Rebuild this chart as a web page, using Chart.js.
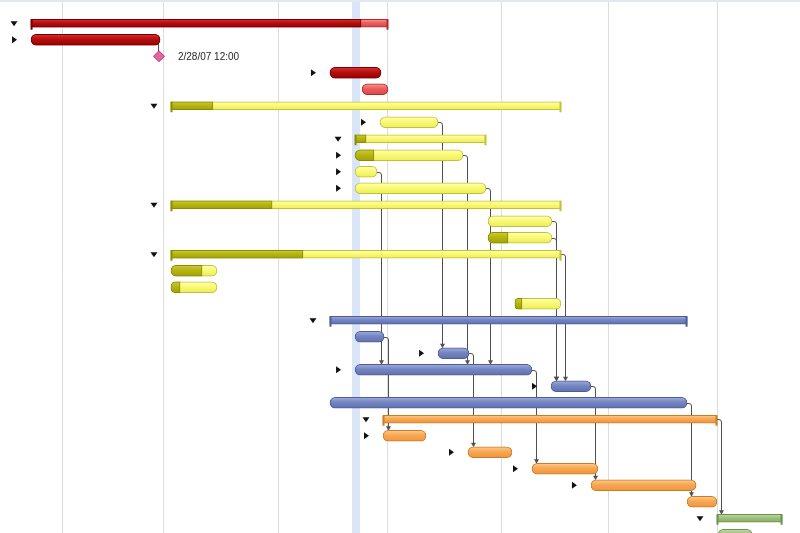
<!DOCTYPE html>
<html><head><meta charset="utf-8">
<script src="https://cdn.jsdelivr.net/npm/chart.js@4/dist/chart.umd.min.js"></script>
<style>
html,body{margin:0;padding:0;background:#fff;overflow:hidden;width:800px;height:533px}
#wrap{position:relative;width:800px;height:543px}
</style>
</head><body><div id="wrap"><canvas id="c" width="800" height="543"></canvas></div>
<script>
// ---- data (x values are in days from the start of the view) ----
const rows = ['T1','T2','T3','T4','T5','T6','T7','T8','T9','T10','T11','T12','T13','T14','T15','T16',
              'T17','T18','T19','T20','T21','T22','T23','T24','T25','T26','T27','T28','T29','T30','T31','T32'];
const kinds = ['summary','task','milestone','task','task','summary','task','summary','task','task','task','summary',
               'task','task','summary','task','task','task','summary','task','task','task','task','task',
               'summary','task','task','task','task','task','summary','task'];
const groups = ['red','red','red','red','red',
                'yellow','yellow','yellow','yellow','yellow','yellow','yellow','yellow','yellow','yellow','yellow','yellow','yellow',
                'blue','blue','blue','blue','blue','blue',
                'orange','orange','orange','orange','orange','orange',
                'green','green'];
const starts = [1.99,1.99,10.19,21.15,23.21,10.96,24.36,22.76,22.76,22.76,22.76,10.96,31.28,31.28,10.96,10.96,
                10.96,33.01,21.15,22.76,28.08,22.76,35.32,21.15,24.55,24.55,30.00,34.10,37.88,44.04,45.96,46.03];
const ends   = [24.87,10.26,null,24.42,24.87,35.96,28.08,31.15,29.68,24.17,31.15,35.96,35.38,35.38,35.96,13.91,
                13.91,35.96,44.04,24.62,30.06,34.10,37.88,44.04,45.96,27.31,32.82,38.33,44.62,45.96,50.13,48.21];
const progress = [23.14,10.26,null,24.42,null,13.65,null,23.46,23.97,null,null,17.44,null,32.56,19.42,12.95,
                  11.54,33.46,null,null,null,null,null,null,null,null,null,null,null,null,null,null];
const disclosure = ['open','closed',null,'closed',null,'open','closed','open','closed','closed','closed','open',
                    null,null,'open',null,null,null,'open',null,'closed','closed','closed',null,
                    'open','closed','closed','closed','closed',null,'open',null];
const dependencies = [[1,2],[9,21],[6,20],[8,21],[10,21],[12,22],[13,22],[14,22],
                      [19,25],[20,26],[21,27],[22,28],[23,29],[24,30]];
const gridDays = [3.97,10.48,17.82,24.81,32.12,38.97,45.96];
const todayBand = [22.56,23.08];
const dayRange = [0,51.28];
const milestoneLabels = ['','','2/28/07 12:00','','','','','','','','','','','','','','','','','','','','','','','','','','','','',''];

// ---- styles ----
const SUM_T = 8, TASK_T = 11;
const palette = {
  red:    {todo:['#f79a9a','#ee5c5c','#d84646'], todoEdge:'#b02a2a', done:['#d43434','#b80e0e','#980000'], doneEdge:'#780000'},
  yellow: {todo:['#ffffb8','#fafa76','#ecec5c'], todoEdge:'#c2c23a', done:['#cdcd36','#b5b514','#a2a208'], doneEdge:'#8c8c00'},
  blue:   {todo:['#a0aedb','#7486c2','#6070ac'], todoEdge:'#4c5d9a'},
  orange: {todo:['#fdcb92','#f8a852','#ec963e'], todoEdge:'#c97d28'},
  green:  {todo:['#c2dba8','#9dc07b','#88ad66'], todoEdge:'#6a934a'}
};
function colors(i, isDone){ const p = palette[groups[i]]; return (isDone && p.done) ? {f:p.done,e:p.doneEdge} : {f:p.todo,e:p.todoEdge}; }
function grad(c, isDone, th){
  const i = c.dataIndex;
  if (i == null || !groups[i]) return '#ccc';
  const cl = colors(i, isDone);
  const ys = c.chart.scales.y;
  if (!ys) return cl.f[1];
  const y = ys.getPixelForValue(i);
  if (!isFinite(y)) return cl.f[1];
  const g = c.chart.ctx.createLinearGradient(0, y - th/2, 0, y + th/2);
  g.addColorStop(0, cl.f[0]); g.addColorStop(0.45, cl.f[1]); g.addColorStop(1, cl.f[2]);
  return g;
}
function edge(c, isDone){ const i = c.dataIndex; return (i == null || !groups[i]) ? '#888' : colors(i, isDone).e; }

const ganttPlugin = {
  id: 'gantt',
  beforeDatasetsDraw(chart){
    const {ctx, scales:{x, y}} = chart;
    ctx.save();
    ctx.fillStyle = '#e3e8ef'; ctx.fillRect(0, 0, chart.width, 2);
    ctx.strokeStyle = '#dddddd'; ctx.lineWidth = 1;
    gridDays.forEach(d => {
      const px = Math.round(x.getPixelForValue(d)) + 0.5;
      ctx.beginPath(); ctx.moveTo(px, 2); ctx.lineTo(px, chart.height); ctx.stroke();
    });
    const a = x.getPixelForValue(todayBand[0]), b = x.getPixelForValue(todayBand[1]);
    ctx.fillStyle = 'rgba(212,226,246,0.85)'; ctx.fillRect(a, 2, b - a, chart.height);
    ctx.strokeStyle = '#505050'; ctx.fillStyle = '#505050'; ctx.lineWidth = 1;
    dependencies.forEach(([p, s]) => {
      const yp = y.getPixelForValue(p), ysu = y.getPixelForValue(s);
      if (kinds[s] === 'milestone') {
        const xm = Math.round(x.getPixelForValue(starts[s])) - 0.5;
        ctx.beginPath(); ctx.moveTo(xm, yp); ctx.lineTo(xm, ysu - 5); ctx.stroke();
        return;
      }
      const xe = x.getPixelForValue(ends[p]);
      const xl = Math.round(xe + 4) + 0.5;
      const top = ysu - (kinds[s] === 'summary' ? SUM_T : TASK_T) / 2;
      const yy = Math.round(yp) + 0.5;
      ctx.beginPath();
      ctx.moveTo(xe - 3, yy);
      ctx.arcTo(xl, yy, xl, top, 2.5);
      ctx.lineTo(xl, top - 3);
      ctx.stroke();
      ctx.beginPath();
      ctx.moveTo(xl - 2.5, top - 4); ctx.lineTo(xl + 2.5, top - 4); ctx.lineTo(xl, top + 0.5); ctx.closePath(); ctx.fill();
    });
    ctx.restore();
  },
  afterDatasetsDraw(chart){
    const {ctx, scales:{x, y}} = chart;
    ctx.save();
    rows.forEach((r, i) => {
      const cy = y.getPixelForValue(i);
      const xs = x.getPixelForValue(starts[i]);
      if (kinds[i] === 'summary') {
        const xe = x.getPixelForValue(ends[i]);
        const ps = progress[i] != null && progress[i] > starts[i];
        const pe = progress[i] != null && progress[i] >= ends[i];
        ctx.fillStyle = colors(i, ps).e;
        ctx.fillRect(xs - 0.5, cy - SUM_T/2, 2, SUM_T + 2.5);
        ctx.fillStyle = colors(i, pe).e;
        ctx.fillRect(xe - 1.5, cy - SUM_T/2, 2, SUM_T + 2.5);
      }
      const d = disclosure[i];
      if (d) {
        const cx = xs - 17;
        ctx.fillStyle = '#111';
        ctx.beginPath();
        if (d === 'open') { ctx.moveTo(cx - 3.5, cy - 2); ctx.lineTo(cx + 3.5, cy - 2); ctx.lineTo(cx, cy + 3); }
        else { ctx.moveTo(cx - 2, cy - 3.5); ctx.lineTo(cx - 2, cy + 3.5); ctx.lineTo(cx + 3, cy); }
        ctx.closePath(); ctx.fill();
      }
      if (milestoneLabels[i]) {
        ctx.fillStyle = '#262626';
        ctx.font = '10px "Liberation Sans", Arial, sans-serif';
        ctx.textBaseline = 'middle'; ctx.textAlign = 'left';
        ctx.fillText(milestoneLabels[i], xs + 19, cy + 0.5);
      }
    });
    ctx.restore();
  }
};

new Chart(document.getElementById('c'), {
  type: 'bar',
  data: {
    labels: rows,
    datasets: [
      { type: 'line', label: 'Milestone', indexAxis: 'y',
        data: kinds.map((k, i) => k === 'milestone' ? starts[i] : null),
        showLine: false, pointStyle: 'rectRot', pointRadius: 5.5,
        pointBackgroundColor: '#e8649e', pointBorderColor: '#b23a6e', pointBorderWidth: 1, order: 0, clip: false },
      { label: 'Summary progress', grouped: false, barThickness: SUM_T,
        data: kinds.map((k, i) => k === 'summary' && progress[i] != null ? [starts[i], progress[i]] : null),
        backgroundColor: c => grad(c, true, SUM_T), borderColor: c => edge(c, true),
        borderWidth: 1, borderSkipped: false, borderRadius: 0, order: 1 },
      { label: 'Task progress', grouped: false, barThickness: TASK_T,
        data: kinds.map((k, i) => k === 'task' && progress[i] != null ? [starts[i], progress[i]] : null),
        backgroundColor: c => grad(c, true, TASK_T), borderColor: c => edge(c, true),
        borderWidth: 1, borderSkipped: false,
        borderRadius: c => { const i = c.dataIndex; if (i == null || progress[i] == null) return 0;
          return progress[i] >= ends[i] ? TASK_T/2 : {topLeft: TASK_T/2, bottomLeft: TASK_T/2, topRight: 0, bottomRight: 0}; },
        order: 1 },
      { label: 'Summary', grouped: false, barThickness: SUM_T,
        data: kinds.map((k, i) => k === 'summary' ? [starts[i], ends[i]] : null),
        backgroundColor: c => grad(c, false, SUM_T), borderColor: c => edge(c, false),
        borderWidth: 1, borderSkipped: false, borderRadius: 0, order: 2 },
      { label: 'Task', grouped: false, barThickness: TASK_T,
        data: kinds.map((k, i) => k === 'task' ? [starts[i], ends[i]] : null),
        backgroundColor: c => grad(c, false, TASK_T), borderColor: c => edge(c, false),
        borderWidth: 1, borderSkipped: false, borderRadius: TASK_T/2, order: 2 }
    ]
  },
  options: {
    indexAxis: 'y',
    responsive: false,
    animation: false,
    layout: { autoPadding: false, padding: { top: 15, bottom: 0, left: 0, right: 0 } },
    plugins: { legend: { display: false }, tooltip: { enabled: false } },
    scales: {
      x: { type: 'linear', display: false, min: dayRange[0], max: dayRange[1] },
      y: { type: 'category', display: false, offset: true }
    }
  },
  plugins: [ganttPlugin]
});
</script>
</body></html>
